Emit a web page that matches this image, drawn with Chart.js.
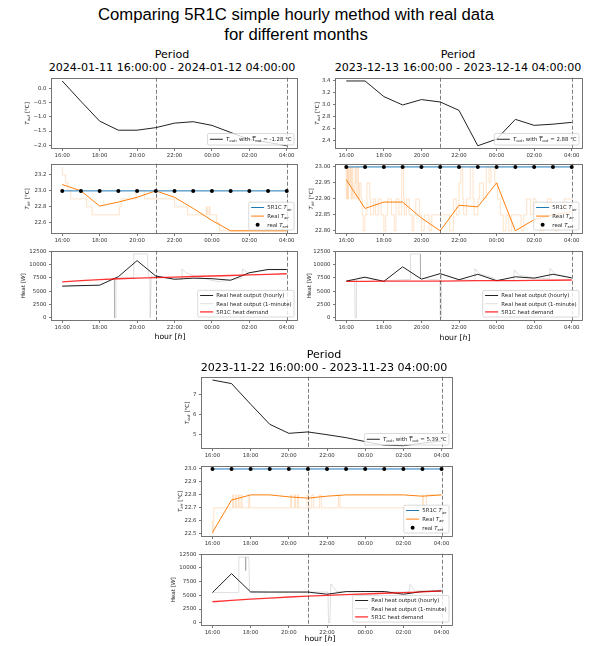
<!DOCTYPE html>
<html>
<head>
<meta charset="utf-8">
<script src="https://cdn.jsdelivr.net/npm/chart.js@4/dist/chart.umd.min.js"></script>
<style>
  html, body { margin: 0; padding: 0; background: #fff; }
  body { width: 591px; height: 646px; position: relative; overflow: hidden; font-family: "DejaVu Sans", sans-serif; }
  .txt { position: absolute; white-space: nowrap; transform: translate(-50%, -50%); color: #000; line-height: 1; }
  .main { font-family: "Liberation Sans", Arial, sans-serif; font-size: 16.7px; }
  .period { font-size: 11.1px; }
  .xlab { font-size: 7.7px; }
  canvas { position: absolute; }
</style>
</head>
<body>
<div class="txt main" style="left:296px;top:15px">Comparing 5R1C simple hourly method with real data</div>
<div class="txt main" style="left:296px;top:35px">for different months</div>

<script>
// ---------- shared axis data ----------
const HOURS = [0, 1, 2, 3, 4, 5, 6, 7, 8, 9, 10, 11, 12];          // hours after 16:00
const HOUR_TICKS = [0, 2, 4, 6, 8, 10, 12];
const HOUR_LABELS = ['16:00', '18:00', '20:00', '22:00', '00:00', '02:00', '04:00'];
const MARK_HOURS = [5, 12];                                          // 21:00 and 04:00
const HEAT_TICKS = [0, 2500, 5000, 7500, 10000, 12500];

// ---------- period 2024-01-11 ----------
const jan_title = '2024-01-11 16:00:00 - 2024-01-12 04:00:00';
const jan_tout = [0.27, -0.45, -1.15, -1.47, -1.47, -1.38, -1.22, -1.17, -1.30, -1.55, -1.80, -1.90, -2.02];
const jan_tout_mean = -1.28;
const jan_tout_ticks = [0.0, -0.5, -1.0, -1.5, -2.0];
const jan_tair_real = [23.08, 23.00, 22.81, 22.86, 22.92, 23.00, 22.92, 22.78, 22.63, 22.50, 22.50, 22.50, 22.50];
const jan_tair_5r1c = [23, 23, 23, 23, 23, 23, 23, 23, 23, 23, 23, 23, 23];
const jan_tset = [23, 23, 23, 23, 23, 23, 23, 23, 23, 23, 23, 23, 23];
const jan_tair_1min = [[0, 23.3], [0.18, 23.2], [0.3, 23.1], [0.45, 23.0], [1.3, 22.9], [1.6, 22.8], [3.05, 22.7], [3.15, 22.8],
  [3.95, 22.9], [4.4, 23.0], [6.0, 22.9], [6.7, 22.8], [7.7, 22.7], [7.75, 22.8], [7.85, 22.7], [7.9, 22.8], [8.25, 22.7],
  [8.4, 22.6], [8.55, 22.5], [12, 22.5]];
const jan_tair_ticks = [22.6, 22.8, 23.0, 23.2];
const jan_heat_real = [5950, 6050, 6130, 7730, 10740, 7850, 7240, 7450, 7350, 7060, 8470, 9080, 9080];
const jan_heat_5r1c = [6750, 6970, 7170, 7340, 7450, 7560, 7660, 7760, 7850, 7950, 8060, 8170, 8280];
const jan_heat_1min = [[0, 5900], [1.0, 6000], [2.0, 6100], [2.5, 7000], [2.78, 7400], [2.8, 0], [2.85, 0], [2.87, 7500],
  [3.8, 7500], [3.82, 12000], [4.55, 12000], [4.6, 8000], [4.68, 7600], [4.7, 0], [4.74, 0], [4.76, 7800], [5.5, 7500],
  [6.35, 7200], [6.4, 9200], [6.6, 8500], [7.0, 7900], [7.8, 7200], [8.3, 6800], [8.8, 7000], [9.6, 7500], [9.65, 9200],
  [9.75, 8800], [10.0, 8400], [11.0, 9000], [12, 9000]];

// ---------- period 2023-12-13 ----------
const dec_title = '2023-12-13 16:00:00 - 2023-12-14 04:00:00';
const dec_tout = [3.39, 3.39, 3.13, 2.99, 3.08, 3.04, 2.90, 2.31, 2.42, 2.75, 2.65, 2.67, 2.70];
const dec_tout_mean = 2.88;
const dec_tout_ticks = [2.4, 2.6, 2.8, 3.0, 3.2, 3.4];
const dec_tair_real = [22.96, 22.87, 22.89, 22.89, 22.84, 22.80, 22.88, 22.875, 22.95, 22.80, 22.835, 22.85, 22.86];
const dec_tair_5r1c = [23, 23, 23, 23, 23, 23, 23, 23, 23, 23, 23, 23, 23];
const dec_tset = [23, 23, 23, 23, 23, 23, 23, 23, 23, 23, 23, 23, 23];
const dec_tair_1min = [[0, 23.0], [0.05, 22.9], [0.08, 23.0], [0.12, 22.9], [0.16, 23.0], [0.22, 22.95], [0.25, 23.0],
  [0.3, 22.9], [0.35, 23.0], [0.42, 22.9], [0.48, 22.95], [0.52, 23.0], [0.58, 22.9], [0.65, 23.0], [0.7, 22.9],
  [0.78, 22.95], [0.85, 22.9], [0.9, 22.85], [1.0, 22.8], [1.1, 22.85], [1.25, 22.95], [1.3, 22.9], [1.45, 22.85],
  [1.55, 22.9], [1.7, 22.85], [1.85, 22.9], [2.0, 22.85], [2.1, 22.8], [2.2, 22.85], [2.4, 22.9], [2.55, 22.85],
  [2.65, 22.8], [2.8, 22.9], [2.95, 22.85], [3.05, 23.0], [3.1, 22.9], [3.2, 22.85], [3.35, 22.9], [3.5, 22.85],
  [3.6, 22.8], [3.7, 22.85], [3.9, 22.9], [4.0, 22.85], [4.15, 22.8], [4.4, 22.85], [4.55, 22.8], [5.5, 22.85],
  [5.7, 22.8], [5.85, 22.9], [6.0, 22.85], [6.1, 22.95], [6.2, 23.0], [6.25, 22.9], [6.4, 22.85], [6.6, 22.9],
  [6.75, 23.0], [6.8, 22.9], [7.0, 22.85], [7.1, 22.9], [7.3, 22.95], [7.45, 22.9], [7.6, 23.0], [7.7, 22.95],
  [7.9, 23.0], [8.05, 22.95], [8.2, 22.9], [8.35, 22.85], [8.5, 22.8], [8.65, 22.85], [8.8, 22.8], [9.3, 22.85],
  [9.45, 22.8], [9.6, 22.85], [9.8, 22.9], [9.95, 22.85], [10.1, 22.9], [10.3, 22.85], [10.5, 22.8], [10.7, 22.85],
  [10.9, 22.9], [11.1, 22.85], [11.3, 22.8], [11.6, 22.85], [11.8, 22.9], [12, 22.9]];
const dec_tair_ticks = [22.80, 22.85, 22.90, 22.95, 23.00];
const dec_heat_real = [6900, 7630, 6850, 9580, 7270, 8300, 7150, 8180, 6970, 7700, 7450, 8180, 7500];
const dec_heat_5r1c = [6850, 6860, 6880, 6900, 6900, 6910, 6930, 6980, 6980, 6990, 7020, 7060, 7100];
const dec_heat_1min = [[0, 7000], [0.45, 7000], [0.47, 0], [0.52, 0], [0.54, 7200], [0.8, 7700], [1.2, 7400], [2.0, 6900],
  [2.05, 6600], [2.1, 7000], [3.4, 7200], [3.42, 12000], [3.93, 12000], [3.95, 7500], [4.5, 7200], [4.98, 7100],
  [5.0, 0], [5.05, 0], [5.07, 8200], [5.5, 7800], [6.0, 7200], [6.8, 7000], [6.85, 9200], [7.1, 8300], [7.8, 7500],
  [8.0, 7100], [8.9, 7000], [8.95, 9000], [9.2, 8000], [10.0, 7500], [10.8, 7300], [10.85, 9300], [11.1, 8300], [12, 7500]];

// ---------- period 2023-11-22 ----------
const nov_title = '2023-11-22 16:00:00 - 2023-11-23 04:00:00';
const nov_tout = [7.76, 7.58, 6.53, 5.51, 5.05, 5.12, 4.98, 4.83, 4.63, 4.45, 4.42, 4.55, 4.66];
const nov_tout_mean = 5.39;
const nov_tout_ticks = [5, 6, 7];
const nov_tair_real = [22.51, 22.76, 22.80, 22.80, 22.785, 22.775, 22.79, 22.80, 22.80, 22.80, 22.80, 22.79, 22.80];
const nov_tair_5r1c = [23, 23, 23, 23, 23, 23, 23, 23, 23, 23, 23, 23, 23];
const nov_tset = [23, 23, 23, 23, 23, 23, 23, 23, 23, 23, 23, 23, 23];
const nov_tair_1min = [[0, 22.6], [0.07, 22.5], [1.05, 22.7], [1.1, 22.8], [1.2, 22.7], [1.25, 22.8], [1.35, 22.7],
  [1.4, 22.8], [1.5, 22.7], [1.55, 22.8], [1.9, 22.7], [1.95, 22.8], [4.1, 22.7], [4.15, 22.8], [4.3, 22.7], [4.35, 22.8],
  [4.45, 22.7], [4.5, 22.8], [4.95, 22.7], [5.05, 22.8], [5.2, 22.7], [5.3, 22.8], [5.6, 22.7], [5.7, 22.8], [6.6, 22.7],
  [6.68, 22.8], [11.0, 22.7], [11.05, 22.8], [11.2, 22.7], [11.3, 22.8], [12, 22.8]];
const nov_tair_ticks = [22.5, 22.6, 22.7, 22.8, 22.9, 23.0];
const nov_heat_real = [5500, 8970, 5620, 5600, 5600, 5600, 5200, 5680, 5700, 5700, 5200, 5700, 5800];
const nov_heat_5r1c = [3830, 4080, 4300, 4500, 4700, 4860, 5000, 5130, 5250, 5380, 5500, 5650, 5800];
const nov_heat_1min = [[0, 5500], [1.35, 5500], [1.38, 12000], [1.72, 12000], [1.74, 9500], [1.78, 12000], [1.9, 12000],
  [1.95, 5600], [6.05, 5600], [6.08, 0], [6.15, 0], [6.2, 7100], [6.5, 5700], [10.3, 5600], [10.35, 7000], [10.6, 5800],
  [12, 5800]];

// ---------- drawing helpers ----------
const FONT = 'DejaVu Sans';
const TICK_SIZE = 5.4;
const C_BLUE = '#1f77b4', C_ORANGE = '#ff7f0e';

// rich text: [text, kind] with kind n=normal, i=italic, s=italic subscript, b=italic with overbar
function segFont(kind, size) {
  const italic = kind === 'i' || kind === 's' || kind === 'b';
  const sz = kind === 's' ? size * 0.7 : size;
  return (italic ? 'italic ' : '') + sz + 'px "' + FONT + '"';
}
function richWidth(ctx, segs, size) {
  let w = 0;
  for (const [t, k] of segs) { ctx.font = segFont(k, size); w += ctx.measureText(t).width; }
  return w;
}
function drawRich(ctx, segs, x, y, size, color) {
  ctx.fillStyle = color; ctx.textBaseline = 'alphabetic'; ctx.textAlign = 'left';
  const base = y + size * 0.36;
  for (const [t, k] of segs) {
    ctx.font = segFont(k, size);
    const w = ctx.measureText(t).width;
    ctx.fillText(t, x, k === 's' ? base + size * 0.22 : base);
    if (k === 'b') ctx.fillRect(x + size * 0.08, base - size * 0.95, w, 0.6);
    x += w;
  }
}
const sym = (main, sub) => [[main, 'i'], [sub, 's']];
const toutLegend = mean => [['T', 'i'], ['out', 's'], [', with ', 'n'], ['T', 'b'], ['out', 's'], [' = ' + mean.toFixed(2) + ' °C', 'n']];

function drawLegend(ctx, a, leg) {
  const size = TICK_SIZE, pad = 2.4, handle = 13, gap = 3.2;
  let tw = 0;
  for (const it of leg.items) tw = Math.max(tw, richWidth(ctx, it.label, size));
  const w = pad + handle + gap + tw + pad;
  const h = leg.rowH * leg.items.length + 2;
  const x0 = a.right - 4 - w, y0 = a.bottom - 4 - h;
  ctx.save();
  ctx.beginPath();
  ctx.roundRect(x0, y0, w, h, 1.5);
  ctx.fillStyle = 'rgba(255,255,255,0.8)';
  ctx.fill();
  ctx.strokeStyle = 'rgba(204,204,204,0.9)';
  ctx.lineWidth = 0.8;
  ctx.stroke();
  leg.items.forEach((it, i) => {
    const cy = y0 + 1 + leg.rowH * (i + 0.5);
    if (it.dot) {
      ctx.beginPath(); ctx.arc(x0 + pad + handle / 2, cy, 2, 0, Math.PI * 2);
      ctx.fillStyle = it.color; ctx.fill();
    } else {
      ctx.beginPath(); ctx.moveTo(x0 + pad, cy); ctx.lineTo(x0 + pad + handle, cy);
      ctx.strokeStyle = it.color; ctx.lineWidth = it.width || 1; ctx.stroke();
    }
    drawRich(ctx, it.label, x0 + pad + handle + gap, cy, size, '#222');
  });
  ctx.restore();
}

const decor = {
  id: 'decor',
  afterDatasetsDraw(chart, args, opts) {
    const { ctx, chartArea: a, scales: { x } } = chart;
    ctx.save();
    // reference hours
    ctx.strokeStyle = 'rgba(0,0,0,0.5)'; ctx.lineWidth = 1; ctx.setLineDash([4, 2]);
    for (const v of MARK_HOURS) {
      const px = Math.round(x.getPixelForValue(v)) + 0.5;
      ctx.beginPath(); ctx.moveTo(px, a.top); ctx.lineTo(px, a.bottom); ctx.stroke();
    }
    ctx.setLineDash([]);
    // axes frame
    ctx.strokeStyle = '#666'; ctx.lineWidth = 0.9;
    ctx.strokeRect(Math.round(a.left) + 0.5, Math.round(a.top) + 0.5, Math.round(a.right - a.left) - 1, Math.round(a.bottom - a.top) - 1);
    // legend
    drawLegend(ctx, a, opts.legend);
    // rotated y label
    ctx.translate(a.left + opts.yLabelDx, (a.top + a.bottom) / 2);
    ctx.rotate(-Math.PI / 2);
    const lw = richWidth(ctx, opts.yLabel, 5.6);
    drawRich(ctx, opts.yLabel, -lw / 2, 0, 5.6, '#222');
    ctx.restore();
  }
};

const pts = (xs, ys) => xs.map((v, i) => ({ x: v, y: ys[i] }));
const pairPts = arr => arr.map(([t, v]) => ({ x: t, y: v }));
const fmt = (v, d) => v.toFixed(d).replace('-', '\u2212');

function padRange(datasets) {
  let lo = Infinity, hi = -Infinity;
  for (const ds of datasets) for (const p of ds.data) { lo = Math.min(lo, p.y); hi = Math.max(hi, p.y); }
  const m = (hi - lo) * 0.05;
  return [lo - m, hi + m];
}

function makeChart(cfg) {
  const YW = 46, PADT = 4, PADR = 6, XH = 12;
  const c = document.createElement('canvas');
  c.width = cfg.right - cfg.left + YW + PADR;
  c.height = cfg.bottom - cfg.top + PADT + XH;
  c.style.left = (cfg.left - YW) + 'px';
  c.style.top = (cfg.top - PADT) + 'px';
  document.body.appendChild(c);
  const [ymin, ymax] = padRange(cfg.datasets);
  const tickFont = { family: FONT, size: TICK_SIZE };
  const grid = { display: true, drawOnChartArea: false, drawTicks: true, tickLength: 2, tickColor: '#555', tickWidth: 0.8 };
  new Chart(c, {
    type: 'line',
    data: { datasets: cfg.datasets },
    options: {
      responsive: false, animation: false, devicePixelRatio: 1, events: [], parsing: false,
      layout: { padding: { left: 0, top: PADT, right: PADR, bottom: 0 } },
      elements: { point: { radius: 0 }, line: { tension: 0 } },
      scales: {
        x: {
          type: 'linear', min: -0.6, max: 12.6,
          afterBuildTicks: s => { s.ticks = HOUR_TICKS.map(v => ({ value: v })); },
          afterFit: s => { s.height = XH; },
          ticks: { font: tickFont, color: '#333', padding: 1, maxRotation: 0, autoSkip: false,
                   callback: (v, i) => HOUR_LABELS[i] },
          grid, border: { display: false }
        },
        y: {
          type: 'linear', min: ymin, max: ymax,
          afterBuildTicks: s => { s.ticks = cfg.yTicks.map(v => ({ value: v })); },
          afterFit: s => { s.width = YW; },
          ticks: { font: tickFont, color: '#333', padding: 2.5, autoSkip: false,
                   callback: (v, i) => fmt(cfg.yTicks[i], cfg.yDec) },
          grid, border: { display: false }
        }
      },
      plugins: {
        legend: { display: false }, tooltip: { enabled: false },
        decor: { legend: cfg.legend, yLabel: cfg.yLabel, yLabelDx: cfg.yLabelDx }
      }
    },
    plugins: [decor]
  });
}

function addText(cls, html, x, y) {
  const d = document.createElement('div');
  d.className = 'txt ' + cls;
  d.innerHTML = html;
  d.style.left = x + 'px'; d.style.top = y + 'px';
  document.body.appendChild(d);
}

function panel(p) {
  addText('period', 'Period', p.cx, p.titleY);
  addText('period', p.title, p.cx, p.titleY + 12.5);
  // outdoor temperature
  makeChart({
    left: p.left, right: p.right, top: p.rows[0][0], bottom: p.rows[0][1],
    yTicks: p.toutTicks, yDec: p.toutDec, yLabel: [...sym('T', 'out'), [' [°C]', 'n']], yLabelDx: p.ylx[0],
    datasets: [{ data: pts(HOURS, p.tout), borderColor: '#222', borderWidth: 1 }],
    legend: { rowH: 9.5, items: [{ color: '#222', label: toutLegend(p.toutMean) }] }
  });
  // indoor air temperature
  makeChart({
    left: p.left, right: p.right, top: p.rows[1][0], bottom: p.rows[1][1],
    yTicks: p.tairTicks, yDec: p.tairDec, yLabel: [...sym('T', 'air'), [' [°C]', 'n']], yLabelDx: p.ylx[1],
    datasets: [
      { data: pairPts(p.tair1m), borderColor: 'rgba(255,127,14,0.22)', borderWidth: 1, stepped: 'after', order: 4 },
      { data: pts(HOURS, p.tairReal), borderColor: C_ORANGE, borderWidth: 1, order: 3 },
      { data: pts(HOURS, p.tair5r1c), borderColor: C_BLUE, borderWidth: 1, order: 2 },
      { data: pts(HOURS, p.tset), showLine: false, pointRadius: 2, pointBackgroundColor: '#000', pointBorderWidth: 0, order: 1 }
    ],
    legend: { rowH: 8.6, items: [
      { color: C_BLUE, label: [['5R1C ', 'n'], ...sym('T', 'air')] },
      { color: C_ORANGE, label: [['Real ', 'n'], ...sym('T', 'air')] },
      { color: '#000', dot: true, label: [['real ', 'n'], ...sym('T', 'set')] }
    ] }
  });
  // heat
  makeChart({
    left: p.left, right: p.right, top: p.rows[2][0], bottom: p.rows[2][1],
    yTicks: HEAT_TICKS, yDec: 0, yLabel: [['Heat [', 'n'], ['W', 'i'], [']', 'n']], yLabelDx: p.ylx[2],
    datasets: [
      { data: pairPts(p.heat1m), borderColor: 'rgba(0,0,0,0.13)', borderWidth: 1, order: 3 },
      { data: pts(HOURS, p.heatReal), borderColor: '#222', borderWidth: 1, order: 2 },
      { data: pts(HOURS, p.heat5r1c), borderColor: 'rgba(255,0,0,0.8)', borderWidth: 1.3, order: 1 }
    ],
    legend: { rowH: 8.2, items: [
      { color: '#222', label: [['Real heat output (hourly)', 'n']] },
      { color: 'rgba(0,0,0,0.13)', label: [['Real heat output (1-minute)', 'n']] },
      { color: 'rgba(255,0,0,0.8)', width: 1.3, label: [['5R1C heat demand', 'n']] }
    ] }
  });
  addText('xlab', 'hour [<i>h</i>]', p.xlx, p.xly);
}

panel({
  title: jan_title, cx: 172, titleY: 55, left: 51, right: 298,
  rows: [[76, 149], [162, 234], [249, 321]], ylx: [-24, -24, -28], xlx: 170, xly: 337,
  tout: jan_tout, toutMean: jan_tout_mean, toutTicks: jan_tout_ticks, toutDec: 1,
  tairReal: jan_tair_real, tair5r1c: jan_tair_5r1c, tset: jan_tset, tair1m: jan_tair_1min, tairTicks: jan_tair_ticks, tairDec: 1,
  heatReal: jan_heat_real, heat5r1c: jan_heat_5r1c, heat1m: jan_heat_1min
});
panel({
  title: dec_title, cx: 458, titleY: 55, left: 335, right: 583,
  rows: [[76, 149], [162, 234], [249, 321]], ylx: [-18, -24, -26], xlx: 455, xly: 337.5,
  tout: dec_tout, toutMean: dec_tout_mean, toutTicks: dec_tout_ticks, toutDec: 1,
  tairReal: dec_tair_real, tair5r1c: dec_tair_5r1c, tset: dec_tset, tair1m: dec_tair_1min, tairTicks: dec_tair_ticks, tairDec: 2,
  heatReal: dec_heat_real, heat5r1c: dec_heat_5r1c, heat1m: dec_heat_1min
});
panel({
  title: nov_title, cx: 324, titleY: 355, left: 201, right: 453,
  rows: [[375, 449], [464, 537], [552, 626]], ylx: [-14, -21.5, -28], xlx: 320, xly: 639,
  tout: nov_tout, toutMean: nov_tout_mean, toutTicks: nov_tout_ticks, toutDec: 0,
  tairReal: nov_tair_real, tair5r1c: nov_tair_5r1c, tset: nov_tset, tair1m: nov_tair_1min, tairTicks: nov_tair_ticks, tairDec: 1,
  heatReal: nov_heat_real, heat5r1c: nov_heat_5r1c, heat1m: nov_heat_1min
});
</script>
</body>
</html>
